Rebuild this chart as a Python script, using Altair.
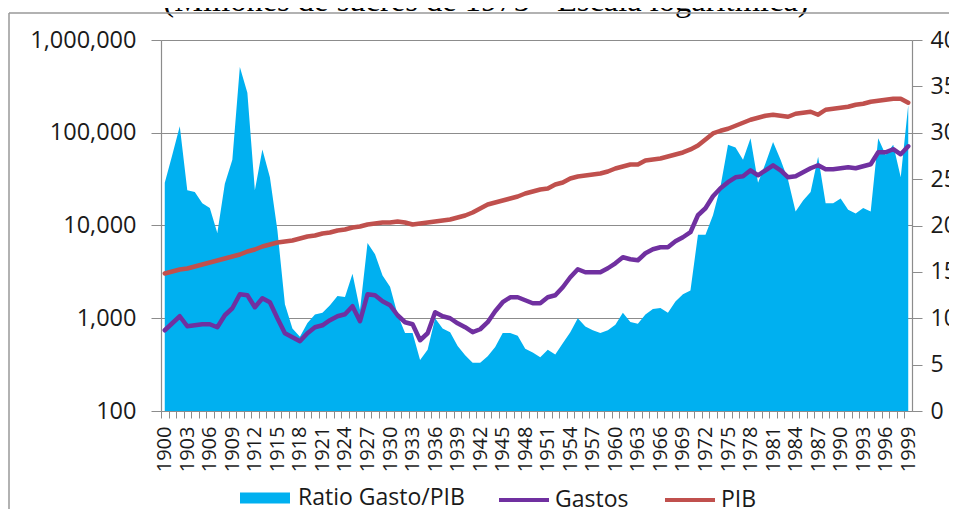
import altair as alt
import pandas as pd

YEARS = list(range(1900, 2000))

RATIO = [
    24.6, 27.6, 30.7, 23.8, 23.6, 22.4, 21.9, 19.2, 24.5, 27.1,
    37.1, 34.3, 23.8, 28.2, 25.2, 19.5, 11.5, 8.9, 8.0, 9.5,
    10.4, 10.6, 11.4, 12.4, 12.3, 14.8, 10.9, 18.1, 16.9, 14.6,
    13.4, 10.4, 8.4, 8.4, 5.5, 6.6, 10.0, 8.9, 8.5, 7.0,
    6.0, 5.2, 5.2, 5.9, 6.9, 8.4, 8.4, 8.1, 6.7, 6.3,
    5.8, 6.6, 6.1, 7.3, 8.5, 10.0, 9.1, 8.7, 8.4, 8.7,
    9.3, 10.6, 9.6, 9.4, 10.4, 11.0, 11.1, 10.6, 11.8, 12.6,
    13.0, 19.0, 19.0, 21.1, 24.2, 28.7, 28.4, 27.1, 29.4, 24.6,
    26.7, 29.0, 27.1, 24.9, 21.5, 22.7, 23.6, 27.4, 22.4, 22.4,
    22.9, 21.7, 21.3, 21.9, 21.5, 29.4, 27.6, 28.7, 25.2, 33.0,
]

GASTOS = [
    742, 883, 1051, 820, 840, 862, 862, 800, 1077, 1282,
    1815, 1770, 1314, 1643, 1488, 1000, 689, 624, 565, 689,
    800, 840, 952, 1051, 1104, 1347, 928, 1815, 1770, 1525,
    1381, 1077, 906, 862, 579, 689, 1161, 1051, 1000, 883,
    800, 707, 761, 906, 1190, 1488, 1684, 1684, 1564, 1451,
    1451, 1684, 1770, 2159, 2767, 3376, 3133, 3133, 3133, 3460,
    3917, 4547, 4327, 4220, 5020, 5550, 5830, 5830, 6760, 7470,
    8460, 12900, 15350, 20660, 25200, 29300, 33100, 34000, 39400, 34800,
    39400, 44600, 39400, 33100, 34000, 37500, 41400, 44600, 40400, 40400,
    41400, 42500, 41400, 43500, 45700, 61600, 61600, 66400, 58600, 71500,
]

PIB = [
    3038, 3192, 3355, 3439, 3614, 3798, 3990, 4195, 4407, 4632,
    4866, 5244, 5510, 5938, 6238, 6557, 6720, 6892, 7241, 7610,
    7800, 8197, 8403, 8834, 9058, 9515, 9756, 10250, 10510, 10770,
    10770, 11040, 10770, 10250, 10510, 10770, 11040, 11320, 11610, 12200,
    12820, 13810, 15250, 16840, 17700, 18600, 19550, 20550, 22130, 23260,
    24440, 25060, 27670, 29080, 32110, 33750, 34600, 35470, 36370, 38220,
    41180, 43280, 45480, 45480, 50240, 51500, 52800, 55490, 58320, 61300,
    66040, 72950, 84690, 98320, 105100, 110400, 119000, 128200, 138100, 145100,
    152500, 156400, 152500, 148800, 160300, 164300, 168400, 156400, 177000, 181500,
    186000, 190700, 200400, 205500, 215900, 221300, 226900, 232600, 232600, 210600,
]

SERIES = ["Ratio Gasto/PIB", "Gastos", "PIB"]
COLORS = ["#00B0F0", "#7030A0", "#C0504D"]
LEFT_TICKS = [100, 1000, 10000, 100000, 1000000]
RIGHT_TICKS = [0, 5, 10, 15, 20, 25, 30, 35, 40]
TITLE = "(Millones de sucres de 1975 - Escala logarítmica)"

W, H = 751, 371
FONT = "Open Sans"
GRAY = "#8C8C8C"
TXT = "#1a1a1a"

ratio_df = pd.DataFrame({"year": YEARS, "value": RATIO, "serie": SERIES[0]})
lines_df = pd.concat([
    pd.DataFrame({"year": YEARS, "value": GASTOS, "serie": SERIES[1]}),
    pd.DataFrame({"year": YEARS, "value": PIB, "serie": SERIES[2]}),
], ignore_index=True)

legend_common = dict(
    title=None, orient="none", direction="horizontal", legendY=433,
    labelFont=FONT, labelFontSize=23, labelColor=TXT, labelLimit=400,
    symbolSize=2500, symbolOpacity=1,
)
area_legend = alt.Legend(legendX=79, symbolType="M-1,-0.22H1V0.22H-1Z",
                         symbolStrokeWidth=0, labelOffset=8, **legend_common)
line_legend = alt.Legend(legendX=336, symbolType="stroke", columnPadding=28,
                         symbolStrokeWidth=4, labelOffset=4, **legend_common)

half = W / 100 / 2
x_enc = alt.X(
    "year:Q",
    scale=alt.Scale(domain=[1899.5, 1999.5], nice=False, zero=False),
    axis=alt.Axis(
        values=YEARS, format="d",
        labelExpr="(datum.value - 1900) % 3 == 0 ? datum.label : ''",
        title=None, grid=False, labelAngle=270, labelFont=FONT, labelFontSize=20,
        labelColor=TXT, labelOverlap=False, labelFlush=False, labelPadding=8,
        tickOffset=-half, labelOffset=half, tickSize=7, tickColor=GRAY,
        domainColor=GRAY, domainWidth=1.2,
    ),
)

area = alt.Chart(ratio_df).mark_area(opacity=1, interpolate="linear").encode(
    x=x_enc,
    y=alt.Y("value:Q", scale=alt.Scale(domain=[0, 40], nice=False),
            axis=alt.Axis(values=RIGHT_TICKS, orient="right", title=None, grid=False,
                          tickSize=10, tickColor=GRAY, domainColor=GRAY, domainWidth=1.2,
                          labelFont=FONT, labelFontSize=23, labelColor=TXT, labelPadding=8)),
    color=alt.Color("serie:N", scale=alt.Scale(domain=SERIES[:1], range=COLORS[:1]),
                    legend=area_legend),
)

lines = alt.Chart(lines_df).mark_line(strokeWidth=4.5, strokeJoin="round", strokeCap="round").encode(
    x=x_enc,
    y=alt.Y("value:Q", scale=alt.Scale(type="log", domain=[100, 1000000], nice=False),
            axis=alt.Axis(values=LEFT_TICKS, format=",", orient="left", title=None, grid=True,
                          gridColor=GRAY, gridWidth=1.2, tickSize=10, tickColor=GRAY,
                          domainColor=GRAY, domainWidth=1.2,
                          labelFont=FONT, labelFontSize=23.5, labelColor=TXT, labelPadding=15)),
    color=alt.Color("serie:N", scale=alt.Scale(domain=SERIES[1:], range=COLORS[1:]),
                    legend=line_legend),
)

title = alt.Chart(pd.DataFrame({"t": [TITLE]})).mark_text(
    font="Liberation Serif", fontSize=32.5, color="#000", align="center", baseline="alphabetic"
).encode(text="t:N", x=alt.value(325), y=alt.value(-29))

frame_df = pd.DataFrame({"a": [0]})
frame_left = alt.Chart(frame_df).mark_rule(color="#999999", strokeWidth=1.5).encode(
    x=alt.value(-152), y=alt.value(-27), y2=alt.value(480))
frame_top = alt.Chart(frame_df).mark_rule(color="#999999", strokeWidth=1.5).encode(
    x=alt.value(-152), x2=alt.value(800), y=alt.value(-27))

chart = alt.layer(area, lines, title, frame_left, frame_top).resolve_scale(
    y="independent", color="independent"
).resolve_legend(color="independent").properties(
    width=W, height=H,
    autosize=alt.AutoSizeParams(type="none"),
    padding={"left": 153, "top": 32, "right": 37, "bottom": 98},
).configure_view(stroke=None).configure(background="white")

chart.save("out.html", embed_options={"renderer": "svg", "actions": False})
